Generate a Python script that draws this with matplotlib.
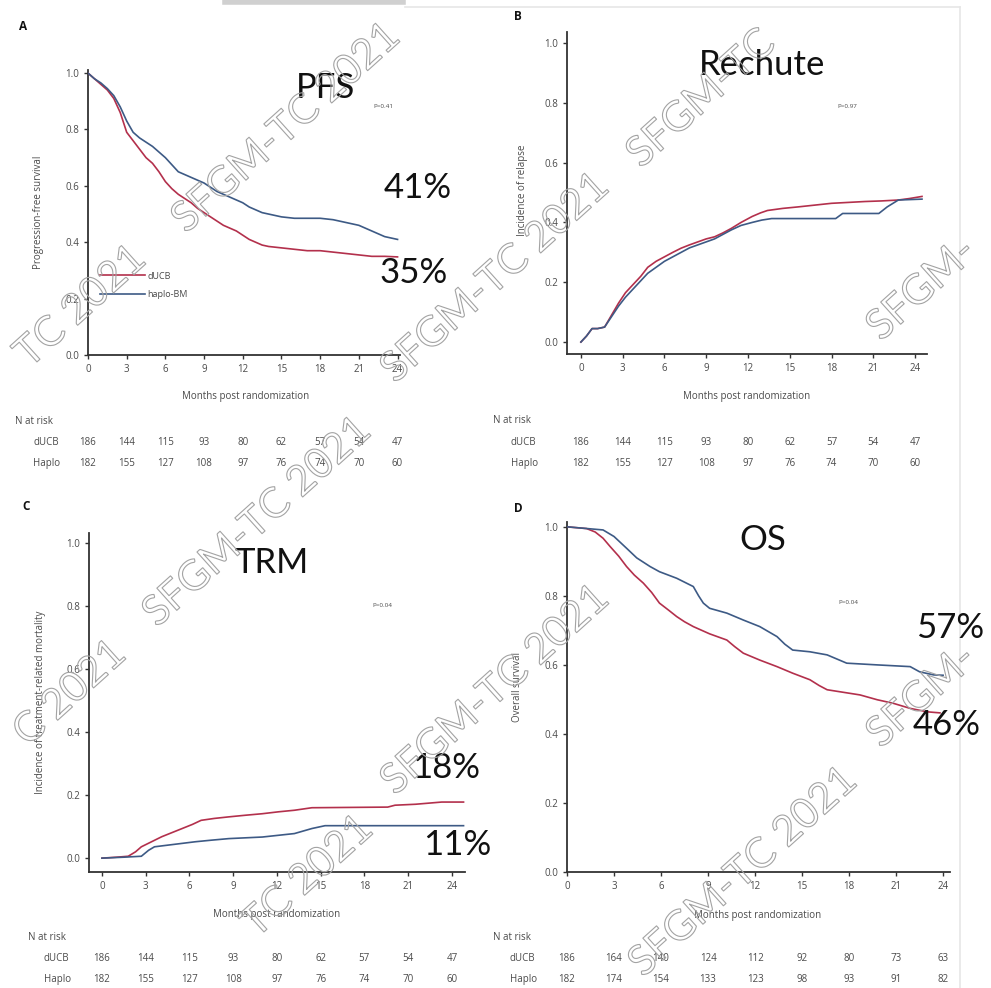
import matplotlib
matplotlib.use("Agg")
import matplotlib.pyplot as plt
import matplotlib.patheffects as pe
from matplotlib.transforms import blended_transform_factory
from matplotlib.lines import Line2D

W, H = 991, 988

# ---------------- data ----------------
ticks_months = [0, 3, 6, 9, 12, 15, 18, 21, 24]

# A: progression-free survival
pfs_t_ducb = [0, 0.5, 1, 1.5, 2, 2.5, 3, 3.5, 4, 4.5, 5, 5.5, 6, 6.5, 7, 7.5, 8, 8.5, 9, 9.5, 10,
              10.5, 11, 11.5, 12, 12.5, 13, 13.5, 14, 15, 16, 17, 18, 19, 20, 21, 22, 23, 24]
pfs_v_ducb = [1.0, 0.98, 0.96, 0.94, 0.91, 0.86, 0.79, 0.76, 0.73, 0.70, 0.68, 0.65, 0.615, 0.59,
              0.57, 0.555, 0.54, 0.52, 0.505, 0.49, 0.475, 0.46, 0.45, 0.44, 0.425, 0.41, 0.40,
              0.39, 0.385, 0.38, 0.375, 0.37, 0.37, 0.365, 0.36, 0.355, 0.35, 0.35, 0.348]
pfs_t_haplo = [0, 0.5, 1, 1.5, 2, 2.5, 3, 3.5, 4, 4.5, 5, 5.5, 6, 6.5, 7, 7.5, 8, 8.5, 9, 9.5, 10,
               10.5, 11, 11.5, 12, 12.5, 13, 13.5, 14, 15, 16, 17, 18, 19, 20, 20.5, 21, 21.5, 22,
               22.5, 23, 23.5, 24]
pfs_v_haplo = [1.0, 0.98, 0.965, 0.945, 0.92, 0.88, 0.83, 0.79, 0.77, 0.755, 0.74, 0.72, 0.70,
               0.675, 0.65, 0.64, 0.63, 0.62, 0.61, 0.595, 0.58, 0.57, 0.56, 0.55, 0.54, 0.525,
               0.515, 0.505, 0.50, 0.49, 0.485, 0.485, 0.485, 0.48, 0.47, 0.465, 0.46, 0.45,
               0.44, 0.43, 0.42, 0.415, 0.41]

# B: incidence of relapse
rel_t_ducb = [0, 0.4, 0.8, 1.2, 1.7, 2.2, 2.7, 3.2, 3.8, 4.3, 4.8, 5.4, 6.0, 6.6, 7.2, 7.8, 8.4,
              9.0, 9.6, 10.2, 10.8, 11.5, 12.3, 12.9, 13.4, 14.5, 15.6, 16.8, 18.0, 19.2, 20.4,
              21.6, 22.8, 23.6, 24.5]
rel_v_ducb = [0.0, 0.02, 0.045, 0.045, 0.05, 0.09, 0.13, 0.165, 0.195, 0.22, 0.25, 0.27, 0.285,
              0.30, 0.314, 0.325, 0.335, 0.345, 0.352, 0.365, 0.38, 0.40, 0.42, 0.432, 0.44, 0.447,
              0.452, 0.458, 0.464, 0.467, 0.47, 0.472, 0.475, 0.48, 0.487]
rel_t_haplo = [0, 0.4, 0.8, 1.2, 1.7, 2.2, 2.7, 3.2, 3.8, 4.3, 4.8, 5.4, 6.0, 6.6, 7.2, 7.8, 8.4,
               9.0, 9.6, 10.2, 10.8, 11.5, 12.3, 13.0, 13.7, 18.3, 18.8, 21.4, 22.0, 22.8, 24.5]
rel_v_haplo = [0.0, 0.02, 0.045, 0.045, 0.05, 0.085, 0.12, 0.15, 0.18, 0.205, 0.23, 0.25, 0.27,
               0.285, 0.30, 0.315, 0.325, 0.335, 0.345, 0.36, 0.375, 0.39, 0.40, 0.408, 0.413,
               0.413, 0.43, 0.43, 0.452, 0.475, 0.478]

# C: incidence of treatment-related mortality
trm_t_ducb = [0, 1.0, 1.8, 2.3, 2.7, 3.4, 4.1, 4.8, 5.5, 6.2, 6.8, 7.7, 8.7, 9.8, 11.0, 12.1,
              13.2, 14.4, 19.6, 20.1, 21.5, 23.3, 24.8]
trm_v_ducb = [0.0, 0.003, 0.006, 0.02, 0.036, 0.052, 0.068, 0.081, 0.094, 0.107, 0.12, 0.126,
              0.131, 0.136, 0.141, 0.147, 0.152, 0.16, 0.162, 0.168, 0.171, 0.178, 0.178]
trm_t_haplo = [0, 1.5, 2.7, 3.2, 3.6, 5.0, 6.4, 7.5, 8.7, 11.0, 13.2, 14.4, 15.3, 24.8]
trm_v_haplo = [0.0, 0.003, 0.006, 0.025, 0.036, 0.044, 0.052, 0.057, 0.062, 0.067, 0.078, 0.094,
               0.103, 0.103]

# D: overall survival
os_t_ducb = [0, 1.25, 1.8, 2.3, 2.75, 3.3, 3.8, 4.3, 4.87, 5.4, 5.9, 6.5, 7.0, 7.5, 8.06, 9.1,
             10.2, 10.7, 11.25, 12.3, 13.4, 14.4, 15.5, 16.1, 16.6, 18.7, 19.8, 20.8, 21.9, 23.0,
             23.8]
os_v_ducb = [1.0, 0.995, 0.985, 0.967, 0.943, 0.915, 0.885, 0.86, 0.837, 0.81, 0.779, 0.758,
             0.74, 0.725, 0.711, 0.69, 0.672, 0.653, 0.634, 0.614, 0.595, 0.576, 0.557, 0.54,
             0.528, 0.513, 0.499, 0.489, 0.474, 0.464, 0.461]
os_t_haplo = [0, 2.3, 3.0, 3.4, 3.8, 4.45, 5.3, 5.9, 7.0, 8.06, 8.4, 8.7, 9.1, 10.2, 11.25, 12.3,
              13.4, 13.9, 14.4, 15.5, 16.6, 17.85, 19.8, 21.9, 22.5, 23.4, 24.0]
os_v_haplo = [1.0, 0.991, 0.972, 0.955, 0.938, 0.91, 0.885, 0.87, 0.851, 0.827, 0.80, 0.779,
              0.764, 0.75, 0.73, 0.711, 0.682, 0.66, 0.643, 0.638, 0.629, 0.605, 0.60, 0.595,
              0.58, 0.571, 0.57]

risk_labels = ["dUCB", "Haplo"]
risk_ducb_abc = [186, 144, 115, 93, 80, 62, 57, 54, 47]
risk_haplo_abc = [182, 155, 127, 108, 97, 76, 74, 70, 60]
risk_ducb_d = [186, 164, 140, 124, 112, 92, 80, 73, 63]
risk_haplo_d = [182, 174, 154, 133, 123, 98, 93, 91, 82]

watermark = "SFGM-TC 2021"

# ---------------- style ----------------
RED = "#b3304c"
BLUE = "#3d5a85"
GREY = "#4a4a4a"
SMALL = ["Open Sans", "DejaVu Sans"]
BIG = ["Lato", "DejaVu Sans"]

fig = plt.figure(figsize=(W / 100, H / 100), dpi=100)
fig.patch.set_facecolor("white")


def fx(x):
    return x / W


def fy(y):
    return 1 - y / H


def box(l, t, r, b):
    return [fx(l), fy(b), (r - l) / W, (b - t) / H]


def setup(ax, xlim, ylim):
    ax.set_xlim(*xlim)
    ax.set_ylim(*ylim)
    for s in ["top", "right"]:
        ax.spines[s].set_visible(False)
    for s in ["left", "bottom"]:
        ax.spines[s].set_color("#333333")
        ax.spines[s].set_linewidth(1.3)
    ax.set_xticks(ticks_months)
    ax.set_yticks([0, 0.2, 0.4, 0.6, 0.8, 1.0])
    ax.set_yticklabels(["0.0", "0.2", "0.4", "0.6", "0.8", "1.0"])
    ax.tick_params(labelsize=7, colors="#333333", labelcolor=GREY, length=3, width=1)
    for lab in ax.get_xticklabels() + ax.get_yticklabels():
        lab.set_family(SMALL)
    ax.set_facecolor("none")


def curves(ax, t1, v1, t2, v2):
    ax.plot(t1, v1, color=RED, lw=1.2, zorder=3)
    ax.plot(t2, v2, color=BLUE, lw=1.2, zorder=3)


def ftext(x, y, s, size, ha="center", va="center", family=SMALL, color=GREY, **kw):
    fig.text(fx(x), fy(y), s, fontsize=size, ha=ha, va=va, family=family, color=color, **kw)


def risk_table(ax, nx, ny, lx, y1, y2, r1, r2):
    tr = blended_transform_factory(ax.transData, fig.transFigure)
    ftext(nx, ny, "N at risk", 7, ha="left")
    ftext(lx, y1, risk_labels[0], 7, ha="left")
    ftext(lx, y2, risk_labels[1], 7, ha="left")
    for m, a, b in zip(ticks_months, r1, r2):
        ax.text(m, fy(y1), str(a), transform=tr, fontsize=7, ha="center", va="center",
                family=SMALL, color=GREY)
        ax.text(m, fy(y2), str(b), transform=tr, fontsize=7, ha="center", va="center",
                family=SMALL, color=GREY)


# ---------------- panel A ----------------
axA = fig.add_axes(box(88, 70, 400, 355))
setup(axA, (0, 24.19), (0, 1.011))
curves(axA, pfs_t_ducb, pfs_v_ducb, pfs_t_haplo, pfs_v_haplo)
leg = axA.legend([Line2D([], [], color=RED, lw=1.2), Line2D([], [], color=BLUE, lw=1.2)],
                 ["dUCB", "haplo-BM"], loc="lower left", bbox_to_anchor=(fx(95), fy(304)),
                 bbox_transform=fig.transFigure, frameon=False, fontsize=6.5,
                 handlelength=5.0, handletextpad=0.3, labelspacing=1.1, borderpad=0)
for t in leg.get_texts():
    t.set_color(GREY)
    t.set_family(SMALL)
ftext(39, 212, "Progression-free survival", 7, rotation=90)
ftext(246, 396, "Months post randomization", 7)
ftext(326, 88, "PFS", 25, family=BIG, color="#111111")
ftext(383, 106, "P=0.41", 4.5)
ftext(418, 188, "41%", 25, family=BIG, color="#111111")
ftext(414, 273, "35%", 25, family=BIG, color="#111111")
ftext(23, 27, "A", 8.5, family=SMALL, color="#111111", fontweight="bold")
risk_table(axA, 15, 421, 33, 442, 463, risk_ducb_abc, risk_haplo_abc)

# ---------------- panel B ----------------
axB = fig.add_axes(box(567, 32, 927, 354))
setup(axB, (-1.0, 24.86), (-0.04, 1.037))
curves(axB, rel_t_ducb, rel_v_ducb, rel_t_haplo, rel_v_haplo)
ftext(522, 190, "Incidence of relapse", 7, rotation=90)
ftext(747, 396, "Months post randomization", 7)
ftext(762, 65, "Rechute", 25, family=BIG, color="#111111")
ftext(847, 106, "P=0.97", 4.5)
ftext(518, 17, "B", 8.5, family=SMALL, color="#111111", fontweight="bold")
risk_table(axB, 493, 420, 511, 442, 463, risk_ducb_abc, risk_haplo_abc)

# ---------------- panel C ----------------
axC = fig.add_axes(box(89, 533, 465, 872))
setup(axC, (-0.89, 24.9), (-0.044, 1.032))
curves(axC, trm_t_ducb, trm_v_ducb, trm_t_haplo, trm_v_haplo)
ftext(41, 702, "Incidence of treatment-related mortality", 7, rotation=90)
ftext(277, 914, "Months post randomization", 7)
ftext(272, 563, "TRM", 25, family=BIG, color="#111111")
ftext(382, 605, "P=0.04", 4.5)
ftext(446, 768, "18%", 25, family=BIG, color="#111111")
ftext(457, 845, "11%", 25, family=BIG, color="#111111")
ftext(26, 506, "C", 8.5, family=SMALL, color="#111111", fontweight="bold")
risk_table(axC, 28, 937, 44, 958, 979, risk_ducb_abc, risk_haplo_abc)

# ---------------- panel D ----------------
axD = fig.add_axes(box(567, 522, 950, 872))
setup(axD, (0, 24.44), (0, 1.014))
curves(axD, os_t_ducb, os_v_ducb, os_t_haplo, os_v_haplo)
ftext(518, 687, "Overall survival", 7, rotation=90)
ftext(758, 915, "Months post randomization", 7)
ftext(763, 540, "OS", 25, family=BIG, color="#111111")
ftext(848, 603, "P=0.04", 4.5)
ftext(950, 628, "57%", 25, family=BIG, color="#111111")
ftext(947, 725, "46%", 25, family=BIG, color="#111111")
ftext(518, 508, "D", 8.5, family=SMALL, color="#111111", fontweight="bold")
risk_table(axD, 493, 937, 510, 958, 979, risk_ducb_d, risk_haplo_d)

# ---------------- page frame artefacts ----------------
fig.add_artist(Line2D([fx(405), fx(960)], [fy(7), fy(7)], color="#e6e6e6", lw=1.2))
fig.add_artist(Line2D([fx(960), fx(960)], [fy(7), fy(988)], color="#e6e6e6", lw=1.2))
fig.add_artist(Line2D([fx(225), fx(403)], [fy(2), fy(2)], color="#d0d0d0", lw=4))

# ---------------- watermarks (visible parts only) ----------------
# (text, anchor x, anchor y, horizontal alignment of anchor)
wm_items = [
    (watermark, 286, 128, "center"),
    (watermark[5:], 140, 253, "right"),
    (watermark, 495, 278, "center"),
    (watermark[:7], 633, 160, "left"),
    (watermark[:5], 873, 333, "left"),
    (watermark, 257, 522, "center"),
    (watermark[6:], 120, 648, "right"),
    (watermark, 495, 690, "center"),
    (watermark[:5], 873, 740, "left"),
    (watermark[5:], 367, 823, "right"),
    (watermark, 743, 872, "center"),
]
for s, ax_, ay_, ha in wm_items:
    fig.text(fx(ax_), fy(ay_), s, fontsize=30, family=BIG, rotation=42,
             rotation_mode="anchor", ha=ha, va="center", color="none", zorder=10,
             path_effects=[pe.Stroke(linewidth=0.8, foreground="#a3a3a3")])

fig.savefig("out.png", dpi=100, facecolor="white")
